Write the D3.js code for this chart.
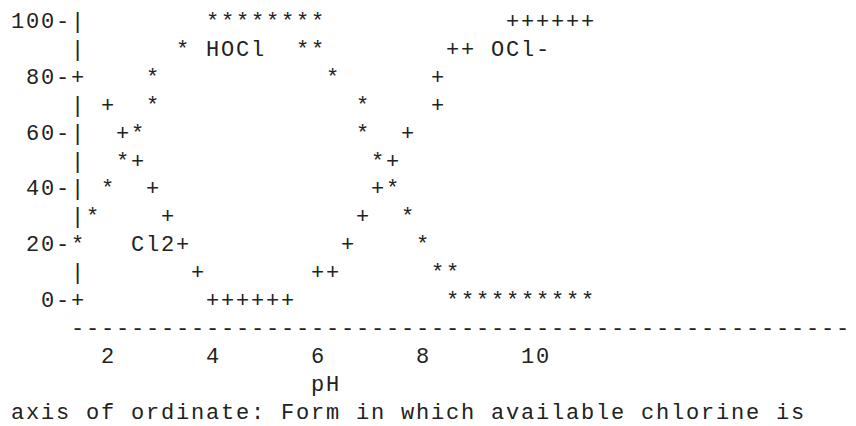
<!DOCTYPE html>
<html>
<head>
<meta charset="utf-8">
<script src="https://cdn.jsdelivr.net/npm/d3@7"></script>
<style>
    body { margin: 0; background: #fff; }
    svg text {
        font-family: "Liberation Mono", "DejaVu Sans Mono", monospace;
        font-size: 22px;
        fill: #222;
        white-space: pre;
    }
</style>
</head>
<body>
<svg id="chart" width="856" height="426"></svg>
<script>
// values (pH, % of available chlorine)
var phTicks = [2, 4, 6, 8, 10],
    pctTicks = [0, 20, 40, 60, 80, 100];

var hoclPoints = [
    [1.43, 20], [1.71, 30], [2, 40], [2.29, 50], [2.57, 60], [2.86, 70], [2.86, 80], [3.43, 90],
    [4, 100], [4.29, 100], [4.57, 100], [4.86, 100], [5.14, 100], [5.43, 100], [5.71, 100], [6, 100],
    [5.71, 90], [6, 90], [6.29, 80], [6.86, 70], [6.86, 60], [7.14, 50], [7.43, 40], [7.71, 30],
    [8, 20], [8.29, 10], [8.57, 10],
    [8.57, 0], [8.86, 0], [9.14, 0], [9.43, 0], [9.71, 0], [10, 0], [10.29, 0], [10.57, 0], [10.86, 0], [11.14, 0]
];
var cl2Points = [
    [1.43, 80], [2, 70], [2.29, 60], [2.57, 50], [2.86, 40], [3.14, 30], [3.43, 20], [3.71, 10],
    [4, 0], [4.29, 0], [4.57, 0], [4.86, 0], [5.14, 0], [5.43, 0]
];
var oclPoints = [
    [6, 10], [6.29, 10], [6.57, 20], [6.86, 30], [7.14, 40], [7.43, 50], [7.71, 60], [8.29, 70],
    [8.29, 80], [8.57, 90], [8.86, 90],
    [9.71, 100], [10, 100], [10.29, 100], [10.57, 100], [10.86, 100], [11.14, 100]
];

var seriesLabels = ["HOCl", "Cl2", "OCl-"],
    labelPh = [4, 2.57, 9.43],
    labelPct = [90, 20, 90];

var xTitle = "pH",
    yNote = "axis of ordinate: Form in which available chlorine is";


draw();

function draw() {
    var svg = d3.select("#chart"),
        cw = 15,            // one character cell
        lh = 27.9,          // one text row
        left = 10,
        top = 28,
        spacing = cw - 22 * 0.6,
        pad = spacing / 2,
        x = d3.scaleLinear().domain([2, 10]).range([left + 6 * cw, left + 34 * cw]),
        y = d3.scaleLinear().domain([0, 100]).range([top + 10 * lh, top]),
        axisX = left + 4 * cw,
        cells = {};

    function snap(px) {
        return left + cw * Math.round((px - left) / cw);
    }
    function put(px, py, ch) {
        cells[Math.round(px) + "," + Math.round(py)] = {x: px, y: py, ch: ch};
    }

    // y axis bar, one char per row
    y.ticks(10).forEach(function(v) { put(axisX, y(v), "|"); });
    put(axisX, y(0), "+");

    cl2Points.forEach(function(d) { put(snap(x(d[0])), y(d[1]), "+"); });
    oclPoints.forEach(function(d) { put(snap(x(d[0])), y(d[1]), "+"); });
    hoclPoints.forEach(function(d) { put(snap(x(d[0])), y(d[1]), "*"); });

    svg.selectAll("text.cell")
        .data(Object.values(cells))
        .enter().append("text")
            .attr("class", "cell")
            .attr("x", function(d) { return d.x + pad; })
            .attr("y", function(d) { return d.y; })
            .text(function(d) { return d.ch; });

    // tick labels like "100-"
    svg.selectAll("text.ylab")
        .data(pctTicks)
        .enter().append("text")
            .attr("class", "ylab")
            .attr("x", function(d) { return axisX - (String(d).length + 1) * cw + pad; })
            .attr("y", function(d) { return y(d); })
            .style("letter-spacing", spacing + "px")
            .text(function(d) { return d + "-"; });

    svg.selectAll("text.slab")
        .data(seriesLabels)
        .enter().append("text")
            .attr("class", "slab")
            .attr("x", function(d, i) { return snap(x(labelPh[i])) + pad; })
            .attr("y", function(d, i) { return y(labelPct[i]); })
            .style("letter-spacing", spacing + "px")
            .text(function(d) { return d; });

    var base = y(0);

    svg.append("text")
        .attr("x", axisX + pad)
        .attr("y", base + lh)
        .style("letter-spacing", spacing + "px")
        .text(d3.range(52).map(function() { return "-"; }).join(""));

    svg.selectAll("text.xlab")
        .data(phTicks)
        .enter().append("text")
            .attr("class", "xlab")
            .attr("x", function(d) { return x(d) + pad; })
            .attr("y", base + 2 * lh)
            .style("letter-spacing", spacing + "px")
            .text(function(d) { return d; });

    svg.append("text")
        .attr("x", x(d3.mean(x.domain())) + pad)
        .attr("y", base + 3 * lh)
        .style("letter-spacing", spacing + "px")
        .text(xTitle);

    svg.append("text")
        .attr("x", left + pad)
        .attr("y", base + 4 * lh)
        .style("letter-spacing", spacing + "px")
        .text(yNote);
}
</script>
</body>
</html>
